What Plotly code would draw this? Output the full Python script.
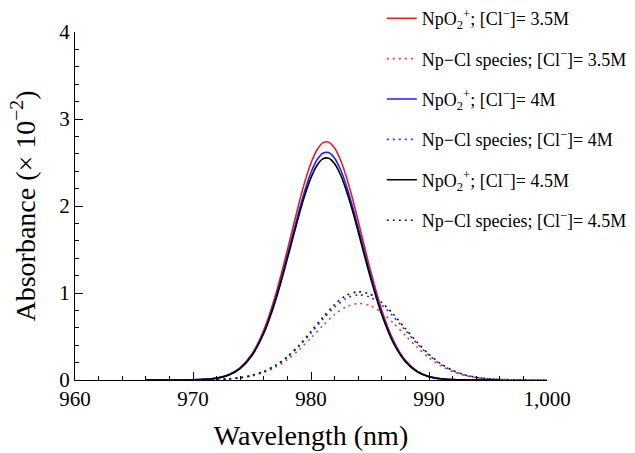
import plotly.graph_objects as go

# Wavelength grids (nm)
wl_main = [966, 967, 968, 969, 970, 971, 972, 973, 974, 975, 976, 977, 978, 979, 979.5, 980,
           980.5, 981, 981.5, 982, 982.5, 983, 983.5, 984, 985, 986, 987, 988, 989, 990, 991,
           992, 993, 994, 995, 996]
wl_cl = [968, 969, 970, 971, 972, 973, 974, 975, 976, 977, 978, 979, 980, 981, 982, 983,
         984, 985, 986, 987, 988, 989, 990, 991, 992, 993, 994, 995, 996, 997, 998, 999, 1000]

# NpO2+ absorbance (x 1e-2)
npo2_35 = [0, 0, 0.0001, 0.0006, 0.0023, 0.0076, 0.0224, 0.0597, 0.142, 0.302, 0.575, 0.981,
           1.496, 2.042, 2.289, 2.494, 2.644, 2.726, 2.734, 2.666, 2.529, 2.334, 2.094, 1.828,
           1.281, 0.803, 0.451, 0.226, 0.102, 0.041, 0.0147, 0.0047, 0.0014, 0, 0, 0]
npo2_40 = [0, 0, 0.0001, 0.0006, 0.0022, 0.0072, 0.0215, 0.0571, 0.136, 0.289, 0.550, 0.938,
           1.431, 1.953, 2.188, 2.385, 2.528, 2.607, 2.614, 2.550, 2.419, 2.231, 2.002, 1.748,
           1.225, 0.768, 0.431, 0.216, 0.097, 0.039, 0.0141, 0.0045, 0.0013, 0, 0, 0]
npo2_45 = [0, 0, 0.0001, 0.0006, 0.0021, 0.0071, 0.0209, 0.0557, 0.132, 0.282, 0.537, 0.915,
           1.395, 1.904, 2.134, 2.326, 2.466, 2.542, 2.549, 2.486, 2.359, 2.176, 1.953, 1.704,
           1.194, 0.749, 0.420, 0.211, 0.095, 0.038, 0.0137, 0.0044, 0.0013, 0, 0, 0]

# Np-Cl species absorbance (x 1e-2)
npcl_35 = [0, 0, 0.0007, 0.002, 0.0048, 0.011, 0.0234, 0.0464, 0.0854, 0.1466, 0.2343, 0.349,
           0.4841, 0.6253, 0.7523, 0.8430, 0.8796, 0.8550, 0.7740, 0.6526, 0.5124, 0.3747,
           0.2553, 0.1619, 0.0957, 0.0526, 0.0270, 0.0128, 0.0057, 0.0024, 0.0009, 0.0003, 0]
npcl_40 = [0, 0, 0.0008, 0.0022, 0.0054, 0.0123, 0.0261, 0.0516, 0.0951, 0.1633, 0.2610, 0.3887,
           0.5391, 0.6964, 0.8378, 0.9387, 0.9796, 0.9522, 0.8619, 0.7268, 0.5707, 0.4173,
           0.2843, 0.1803, 0.1065, 0.0586, 0.0301, 0.0143, 0.0064, 0.0026, 0.001, 0.0003, 0]
npcl_45 = [0, 0, 0.0009, 0.0023, 0.0056, 0.0127, 0.0270, 0.0535, 0.0985, 0.1691, 0.2703, 0.4025,
           0.5584, 0.7213, 0.8677, 0.9723, 1.0146, 0.9862, 0.8927, 0.7527, 0.5910, 0.4322,
           0.2945, 0.1868, 0.1103, 0.0607, 0.0312, 0.0148, 0.0066, 0.0027, 0.001, 0.0003, 0]

x_ticks = [960, 970, 980, 990, 1000]
y_ticks = [0, 1, 2, 3, 4]

npo2_name = "NpO<sub>2</sub><sup>+</sup>; [Cl<sup>\u2212</sup>]= {}"
npcl_name = "Np\u2212Cl species; [Cl<sup>\u2212</sup>]= {}"

series = [
    (wl_main, npo2_35, npo2_name.format("3.5M"), "#e31e24", "solid"),
    (wl_cl, npcl_35, npcl_name.format("3.5M"), "#ee3a3e", "2px,4px"),
    (wl_main, npo2_40, npo2_name.format("4M"), "#1e1eff", "solid"),
    (wl_cl, npcl_40, npcl_name.format("4M"), "#3434ff", "2px,4px"),
    (wl_main, npo2_45, npo2_name.format("4.5M"), "#000000", "solid"),
    (wl_cl, npcl_45, npcl_name.format("4.5M"), "#1a1a1a", "2px,4px"),
]

fig = go.Figure()
for i, (xs, ys, name, color, dash) in enumerate(series):
    fig.add_trace(go.Scatter(
        x=xs, y=ys, mode="lines", name=name, legendgroup=str(i),
        line=dict(color=color, width=1.6, dash=dash, shape="spline", smoothing=0.8),
    ))

serif = "Liberation Serif, Times New Roman, serif"
fig.update_layout(
    width=635, height=453,
    margin=dict(l=75, r=88, t=32, b=73, autoexpand=False),
    paper_bgcolor="white", plot_bgcolor="white",
    font=dict(family=serif, color="black"),
    showlegend=True,
    legend=dict(
        x=0.65, y=1.0, xref="paper", yref="container", xanchor="left", yanchor="top",
        bgcolor="rgba(0,0,0,0)", font=dict(family=serif, size=18, color="black"),
        tracegroupgap=14, itemwidth=30, maxheight=400,
    ),
    xaxis=dict(
        range=[960, 1000], tickvals=x_ticks, tickformat=",", automargin=False,
        showline=True, linecolor="black", linewidth=1.3, mirror=False,
        ticks="inside", ticklen=8, tickwidth=1.3, tickcolor="black",
        minor=dict(dtick=2, ticks="inside", ticklen=4, tickwidth=1, tickcolor="black"),
        showgrid=False, zeroline=False,
        tickfont=dict(family=serif, size=21),
        title=dict(text="Wavelength (nm)", font=dict(family=serif, size=28)),
    ),
    yaxis=dict(
        range=[0, 4], tickvals=y_ticks, automargin=False,
        showline=True, linecolor="black", linewidth=1.3, mirror=False,
        ticks="inside", ticklen=8, tickwidth=1.3, tickcolor="black",
        minor=dict(dtick=0.2, ticks="inside", ticklen=4, tickwidth=1, tickcolor="black"),
        showgrid=False, zeroline=False,
        tickfont=dict(family=serif, size=21),
        title=dict(text="Absorbance (\u00d7 10<sup>\u22122</sup>)", font=dict(family=serif, size=28)),
    ),
)

fig.write_html("out.html", config={"displayModeBar": False},
               post_script="document.body.style.margin='0';")
